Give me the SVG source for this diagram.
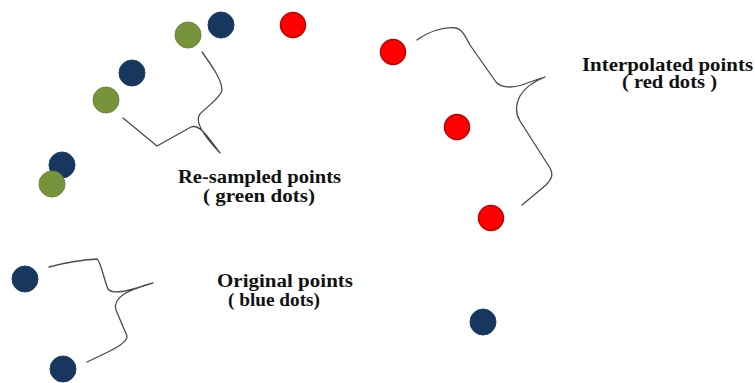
<svg xmlns="http://www.w3.org/2000/svg" width="755" height="383" viewBox="0 0 755 383">
  <style>
    .blue { fill: #17375E; stroke: #1F3F66; stroke-width: 1; }
    .green { fill: #77933C; stroke: #6A8535; stroke-width: 1; }
    .red { fill: #FF0000; stroke: #C00000; stroke-width: 1.5; }
    .brace { fill: none; stroke: #4A4A4A; stroke-width: 1.3; stroke-linejoin: round; stroke-linecap: round; }
    .label { font-family: "Liberation Serif", "Times New Roman", serif; font-weight: bold; font-size: 18px; fill: #111; }
  </style>
  <rect width="755" height="383" fill="#FFFFFF"/>

  <!-- original points -->
  <g id="original-points">
    <circle class="blue" cx="221" cy="25" r="13"/>
    <circle class="blue" cx="132" cy="73" r="13"/>
    <circle class="blue" cx="62" cy="165" r="13"/>
    <circle class="blue" cx="25" cy="279" r="13"/>
    <circle class="blue" cx="63" cy="369" r="13"/>
    <circle class="blue" cx="483" cy="322" r="13"/>
  </g>

  <!-- re-sampled points -->
  <g id="resampled-points">
    <circle class="green" cx="188" cy="35" r="13"/>
    <circle class="green" cx="106" cy="100" r="13"/>
    <circle class="green" cx="52" cy="184" r="13"/>
  </g>

  <!-- interpolated points -->
  <g id="interpolated-points">
    <circle class="red" cx="293" cy="25" r="12.5"/>
    <circle class="red" cx="393" cy="52" r="12.5"/>
    <circle class="red" cx="457" cy="127" r="12.5"/>
    <circle class="red" cx="491" cy="218" r="12.5"/>
  </g>

  <!-- curly braces -->
  <g id="connectors">
    <path class="brace" d="M202,52 C212,66 222,80 222,90 C222,96 208,106 200,114 C195,120 200,132 220,153 C206,134 199,124 191,127 L157,146 L123,118"/>
    <path class="brace" d="M417,40 C428,32 444,26 456,28 C462,29 465,36 470,45 L496,82 C501,88 512,88 522,85 C530,82 538,79 545,77 C535,81 525,87 520,96 C516,104 515,113 520,121 L550,168 C554,175 551,180 546,185 L522,205"/>
    <path class="brace" d="M49,267 C60,264 80,260 97,259 C101,262 104,280 108,289 C111,293 118,292 125,291 C135,289 145,285 153,283 C143,286 132,289 124,294 C118,298 114,304 116,310 L127,336 C127,341 120,346 110,351 L87,362"/>
  </g>

  <!-- labels -->
  <g id="label-resampled">
    <text class="label" x="178" y="183" textLength="163" lengthAdjust="spacingAndGlyphs">Re-sampled points</text>
    <text class="label" x="203" y="202" textLength="112" lengthAdjust="spacingAndGlyphs">( green dots)</text>
  </g>
  <g id="label-interpolated">
    <text class="label" x="582" y="71" textLength="171" lengthAdjust="spacingAndGlyphs">Interpolated points</text>
    <text class="label" x="622" y="88" textLength="95" lengthAdjust="spacingAndGlyphs">( red dots )</text>
  </g>
  <g id="label-original">
    <text class="label" x="217" y="287" textLength="136" lengthAdjust="spacingAndGlyphs">Original points</text>
    <text class="label" x="228" y="306" textLength="92" lengthAdjust="spacingAndGlyphs">( blue dots)</text>
  </g>
</svg>
